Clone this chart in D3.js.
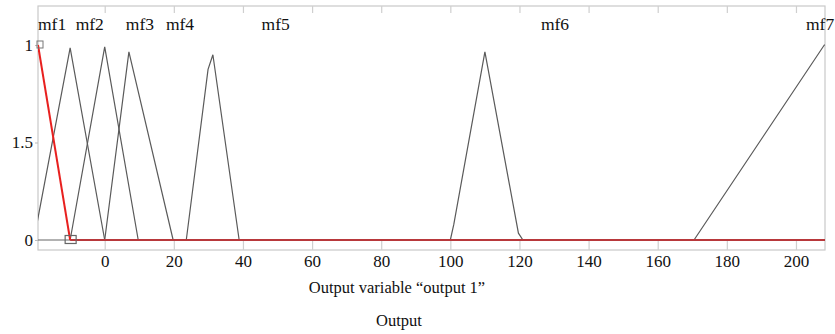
<!DOCTYPE html>
<html><head><meta charset="utf-8">
<script src="https://cdn.jsdelivr.net/npm/d3@7"></script>
<style>body{margin:0;background:#fff;} svg{display:block;}</style>
</head><body><svg id="c" width="835" height="334"></svg>
<script>
// ---- data ----
const xTickValues = [0, 20, 40, 60, 80, 100, 120, 140, 160, 180, 200];
const yTickValues = [0, 0.5, 1];
const yTickLabels = ["0", "1.5", "1"];
const mfNames = ["mf1", "mf2", "mf3", "mf4", "mf5", "mf6", "mf7"];
const mfLabelX = [-19.3, -8.4, 6.1, 17.7, 45.4, 126.2, 202.9];
// gray membership function outlines (x, y)
const mfA_x = [-20.5, -10, 0];      const mfA_y = [0, 0.985, 0];
const mfB_x = [-10, 0, 9.7];        const mfB_y = [0, 0.99, 0];
const mfC_x = [0, 7, 19.8];         const mfC_y = [0, 0.965, 0];
const mfD_x = [23.6, 29.9, 31.3, 38.9]; const mfD_y = [0, 0.875, 0.95, 0];
const mfE_x = [100, 101, 110, 119.7, 121]; const mfE_y = [0, 0.08, 0.965, 0.035, 0];
const mfF_x = [170.5, 208.2, 208.4]; const mfF_y = [0, 1, 1];
// selected (red) function
const selX = [-19.3, -10, 208.4];
const selY = [1, 0, 0];
const xLabel = "Output variable \u201coutput 1\u201d";
const title = "Output";

// ---- layout ----
const FONT = "\"Liberation Serif\"";
const svg = d3.select("#c");
const L = 38, R = 825, T = 6, B = 250;
const x = d3.scaleLinear().domain([-19.3, 208.4]).range([L, R]);
const y = d3.scaleLinear().domain([-0.0513, 1.2]).range([B, T]);

// frame
svg.append("rect").attr("x", L).attr("y", T).attr("width", R - L).attr("height", B - T)
  .attr("fill", "none").attr("stroke", "#c9c9c9").attr("stroke-width", 1.2);

// bottom axis (ticks inward)
const gx = svg.append("g").attr("transform", `translate(0,${B})`)
  .call(d3.axisBottom(x).tickValues(xTickValues).tickSize(-9).tickPadding(5).tickFormat(d3.format("d")));
gx.select(".domain").remove();
gx.selectAll("line").attr("stroke", "#cfcfcf").attr("stroke-width", 1.2);
gx.selectAll("text").attr("font-size", 17).style("font-family", FONT).attr("fill", "#111");

// top ticks
const gt = svg.append("g").attr("transform", `translate(0,${T})`)
  .call(d3.axisTop(x).tickValues(xTickValues).tickSize(-7).tickFormat(""));
gt.select(".domain").remove();
gt.selectAll("line").attr("stroke", "#cfcfcf").attr("stroke-width", 1.2);

// left axis
const gy = svg.append("g").attr("transform", `translate(${L},0)`)
  .call(d3.axisLeft(y).tickValues(yTickValues).tickSize(3).tickPadding(2)
    .tickFormat((d, i) => yTickLabels[i]));
gy.select(".domain").remove();
gy.selectAll("line").attr("stroke", "#bbbbbb");
gy.selectAll("text").attr("font-size", 17).style("font-family", FONT).attr("fill", "#111");

// baseline
svg.append("line").attr("x1", L).attr("x2", R).attr("y1", y(0)).attr("y2", y(0))
  .attr("stroke", "#666").attr("stroke-width", 1.2);

// gray mfs
const line = d3.line().x(d => x(d[0])).y(d => y(d[1]));
const shapes = [[mfA_x, mfA_y], [mfB_x, mfB_y], [mfC_x, mfC_y], [mfD_x, mfD_y], [mfE_x, mfE_y], [mfF_x, mfF_y]];
svg.append("clipPath").attr("id", "clip").append("rect")
  .attr("x", L).attr("y", T).attr("width", R - L).attr("height", B - T);
const plot = svg.append("g").attr("clip-path", "url(#clip)");
shapes.forEach(s => {
  plot.append("path").datum(s[0].map((v, i) => [v, s[1][i]]))
    .attr("d", line).attr("fill", "none").attr("stroke", "#5a5a5a").attr("stroke-width", 1.2);
});

// red selected
const selPts = selX.map((v, i) => [v, selY[i]]);
plot.append("path").datum(selPts.slice(1)).attr("d", line)
  .attr("fill", "none").attr("stroke", "#b8383b").attr("stroke-width", 2.2);
plot.append("path").datum(selPts.slice(0, 2)).attr("d", line)
  .attr("fill", "none").attr("stroke", "#e8201f").attr("stroke-width", 2);

// handles
svg.append("rect").attr("x", x(selX[0]) - 1).attr("y", y(selY[0]) - 4).attr("width", 6).attr("height", 7)
  .attr("fill", "none").attr("stroke", "#777").attr("stroke-width", 1);
svg.append("rect").attr("x", x(selX[1]) - 5).attr("y", y(selY[1]) - 4.5).attr("width", 11).attr("height", 8)
  .attr("fill", "none").attr("stroke", "#666").attr("stroke-width", 1.2);

// mf labels
svg.selectAll("text.mf").data(mfNames).enter().append("text").attr("class", "mf")
  .attr("x", (d, i) => x(mfLabelX[i])).attr("y", 30).attr("fill", "#111")
  .attr("font-size", 17.5).style("font-family", FONT).text(d => d);

// axis labels
svg.append("text").attr("x", 397).attr("y", 293).attr("text-anchor", "middle").attr("fill", "#111")
  .attr("font-size", 16.5).style("font-family", FONT).text(xLabel);
svg.append("text").attr("x", 399).attr("y", 326).attr("text-anchor", "middle").attr("fill", "#111")
  .attr("font-size", 16.5).style("font-family", FONT).text(title);
</script></body></html>
